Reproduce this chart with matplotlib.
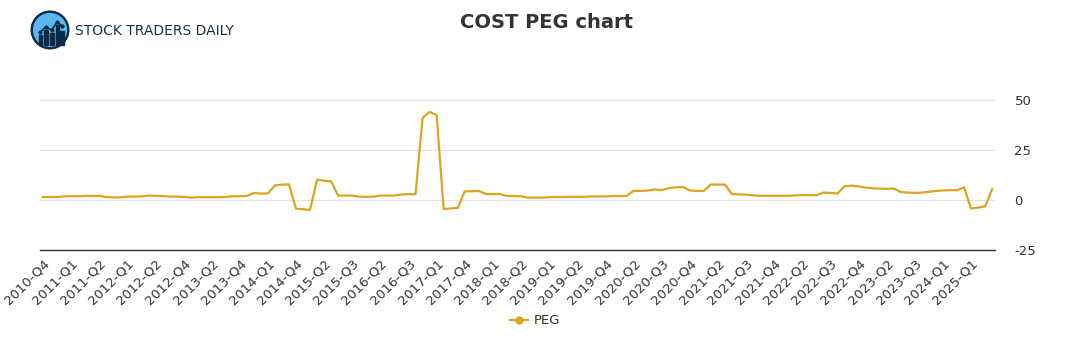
import numpy as np
import matplotlib.pyplot as plt
from matplotlib.patches import Circle, Rectangle

plt.rcParams["axes.unicode_minus"] = False

# PEG values, one per reporting period
peg = [
    1.5, 1.5, 1.5, 1.8, 1.9, 1.9, 2.0, 2.0, 2.1, 1.5,
    1.3, 1.3, 1.7, 1.7, 1.8, 2.2, 2.1, 2.0, 1.7, 1.7,
    1.6, 1.2, 1.4, 1.4, 1.4, 1.4, 1.5, 1.9, 1.9, 2.0,
    3.5, 3.2, 3.3, 7.3, 7.7, 7.8, -4.3, -4.6, -5.0, 10.2,
    9.6, 9.3, 2.2, 2.2, 2.2, 1.7, 1.6, 1.7, 2.2, 2.2,
    2.2, 2.8, 2.9, 2.9, 41.0, 44.0, 42.5, -4.5, -4.2, -4.0,
    4.3, 4.4, 4.5, 3.0, 3.0, 3.0, 2.0, 2.0, 1.9, 1.2,
    1.2, 1.2, 1.4, 1.5, 1.5, 1.6, 1.6, 1.6, 1.8, 1.8,
    1.8, 2.0, 2.0, 2.0, 4.6, 4.6, 4.7, 5.3, 4.9, 6.0,
    6.3, 6.5, 4.8, 4.5, 4.6, 7.8, 7.7, 7.7, 2.9, 2.8,
    2.7, 2.3, 2.1, 2.1, 2.1, 2.1, 2.1, 2.3, 2.5, 2.4,
    2.4, 3.7, 3.6, 3.2, 6.8, 7.2, 6.8, 6.2, 5.9, 5.7,
    5.6, 5.7, 4.0, 3.7, 3.6, 3.7, 4.1, 4.5, 4.8, 4.9,
    4.9, 6.3, -4.3, -3.8, -3.2, 5.5,
]

# every 4th period is labelled with its quarter
tick_labels = [
    "2010-Q4", "2011-Q1", "2011-Q2", "2012-Q1", "2012-Q2", "2012-Q4",
    "2013-Q2", "2013-Q4", "2014-Q1", "2014-Q4", "2015-Q2", "2015-Q3",
    "2016-Q2", "2016-Q3", "2017-Q1", "2017-Q4", "2018-Q1", "2018-Q2",
    "2019-Q1", "2019-Q2", "2019-Q4", "2020-Q2", "2020-Q3", "2020-Q4",
    "2021-Q2", "2021-Q3", "2021-Q4", "2022-Q2", "2022-Q3", "2022-Q4",
    "2023-Q2", "2023-Q3", "2024-Q1", "2025-Q1",
]
y_ticks = [-25, 0, 25, 50]

line_color = "#DAA520"
text_color = "#333333"

fig = plt.figure(figsize=(10.91, 3.5), dpi=100)
ax = fig.add_axes([40 / 1091, 1 - 250 / 350, 955 / 1091, 190 / 350])

x = np.arange(len(peg))
ax.plot(x, peg, color=line_color, lw=1.6, label="PEG")

ax.set_xlim(-0.4, len(peg) - 0.6)
ax.set_ylim(-25, 70)
ax.set_yticks(y_ticks)
ax.yaxis.tick_right()
ax.tick_params(axis="y", length=0, pad=14, labelsize=9.5, labelcolor=text_color)
ax.set_xticks(x[::4])
ax.set_xticklabels(tick_labels)
ax.tick_params(axis="x", length=0, pad=5, labelsize=9.5, labelcolor=text_color,
               labelrotation=45)
for lbl in ax.get_xticklabels():
    lbl.set_horizontalalignment("right")
    lbl.set_rotation_mode("anchor")
ax.grid(axis="y", color="#e3e3e3", lw=0.9)
ax.set_axisbelow(True)
for side in ["top", "right", "left"]:
    ax.spines[side].set_visible(False)
ax.spines["bottom"].set_color("#333333")
ax.spines["bottom"].set_linewidth(1.0)

# legend below the axis
h, = ax.plot([], [], color=line_color, lw=1.6, marker="o", ms=5)
fig.legend([h], ["PEG"], loc="center", bbox_to_anchor=(535 / 1091, 1 - 321 / 350),
           frameon=False, fontsize=9.5, handlelength=1.4, handletextpad=0.4,
           labelcolor=text_color)

fig.text(546 / 1091, 1 - 23 / 350, "COST PEG chart", ha="center", va="center",
         fontsize=14, fontweight="bold", color=text_color)

# logo
lax = fig.add_axes([30 / 1091, 1 - 50 / 350, 40 / 1091, 40 / 350])
lax.set_xlim(0, 1)
lax.set_ylim(0, 1)
lax.set_aspect("equal")
lax.axis("off")
lax.add_patch(Circle((0.5, 0.5), 0.47, color="#0d2a45"))
lax.add_patch(Circle((0.5, 0.5), 0.41, color="#5ab8ef"))
for bx, bh in [(0.22, 0.25), (0.36, 0.38), (0.5, 0.3), (0.64, 0.5), (0.76, 0.36)]:
    lax.add_patch(Rectangle((bx, 0.12), 0.09, bh, color="#0d2a45"))
lax.plot([0.26, 0.4, 0.54, 0.68, 0.8], [0.45, 0.58, 0.5, 0.7, 0.6],
         color="#0d2a45", lw=1.2, marker="o", ms=2)
fig.text(75 / 1091, 1 - 31 / 350, "STOCK TRADERS DAILY", ha="left", va="center",
         fontsize=10, color="#12344f", family="DejaVu Sans")

fig.savefig("out.png", dpi=100)
